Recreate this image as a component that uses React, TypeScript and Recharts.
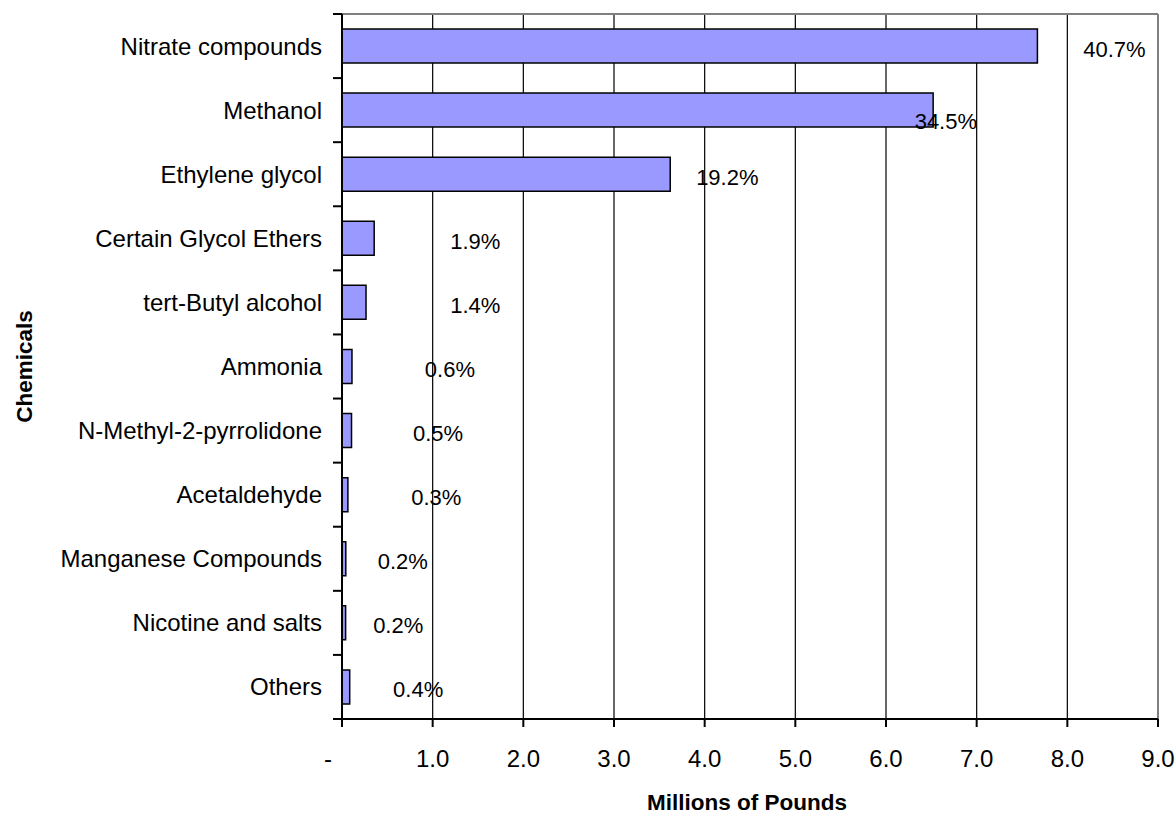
import React from 'react';
import { ComposedChart, Bar, Line, XAxis, YAxis, CartesianGrid, ReferenceLine, LabelList } from 'recharts';

const chemicals = [
  'Nitrate compounds',
  'Methanol',
  'Ethylene glycol',
  'Certain Glycol Ethers',
  'tert-Butyl alcohol',
  'Ammonia',
  'N-Methyl-2-pyrrolidone',
  'Acetaldehyde',
  'Manganese Compounds',
  'Nicotine and salts',
  'Others',
];
// millions of pounds
const pounds = [7.67, 6.52, 3.62, 0.355, 0.265, 0.11, 0.105, 0.065, 0.042, 0.04, 0.085];
const shares = ['40.7%', '34.5%', '19.2%', '1.9%', '1.4%', '0.6%', '0.5%', '0.3%', '0.2%', '0.2%', '0.4%'];
// where the share labels sit, in millions of pounds
const labelAt = [8.52, 6.66, 4.25, 1.47, 1.47, 1.19, 1.06, 1.04, 0.67, 0.62, 0.84];
const xTicks = [0, 1, 2, 3, 4, 5, 6, 7, 8, 9];

const data = chemicals.map((name, i) => ({
  name,
  pounds: pounds[i],
  share: shares[i],
  labelAt: labelAt[i],
}));

const FONT = 'Arial, "Liberation Sans", sans-serif';
const Y_TICK_GAP = 20;

const ShareLabel = (props: any) => {
  const { x, y, value, index } = props;
  // the Methanol label sits lower in the original
  const extra = index === 1 ? 11 : 3;
  return (
    <text x={x} y={y + extra} textAnchor="middle" dominantBaseline="central" fontSize={22} fill="#000" fontFamily={FONT}>
      {value}
    </text>
  );
};

// category label plus the tick marks on the band boundaries
const YTick = (props: any) => {
  const { x, y, payload, index, height, visibleTicksCount } = props;
  const band = height / chemicals.length;
  const axisX = x + Y_TICK_GAP;
  const last = index === visibleTicksCount - 1;
  return (
    <g>
      <text x={x} y={y} textAnchor="end" dominantBaseline="central" fontSize={24} fill="#000" fontFamily={FONT}>
        {payload.value}
      </text>
      <line x1={axisX - 9} x2={axisX} y1={y - band / 2} y2={y - band / 2} stroke="#000" strokeWidth={2} />
      {last && <line x1={axisX - 9} x2={axisX} y1={y + band / 2} y2={y + band / 2} stroke="#000" strokeWidth={2} />}
    </g>
  );
};

const XTick = (props: any) => {
  const { x, y, payload } = props;
  const v = payload.value as number;
  return (
    <text x={v === 0 ? x - 14 : x} y={y} dy="0.71em" textAnchor="middle" fontSize={24} fill="#000" fontFamily={FONT}>
      {v === 0 ? '-' : v.toFixed(1)}
    </text>
  );
};

const YTitle = (props: any) => {
  const { viewBox } = props;
  const cx = viewBox.x + 24;
  const cy = viewBox.y + viewBox.height / 2;
  return (
    <text x={cx} y={cy} transform={`rotate(-90, ${cx}, ${cy})`} textAnchor="middle" dominantBaseline="central" fontSize={22.5} fontWeight="bold" fill="#000" fontFamily={FONT}>
      Chemicals
    </text>
  );
};

const XTitle = (props: any) => {
  const { viewBox } = props;
  const cx = viewBox.x + viewBox.width / 2 - 3;
  const cy = viewBox.y + viewBox.height - 13;
  return (
    <text x={cx} y={cy} textAnchor="middle" dominantBaseline="central" fontSize={22.5} fontWeight="bold" fill="#000" fontFamily={FONT}>
      Millions of Pounds
    </text>
  );
};

export default function App() {
  return (
    <div style={{ position: 'absolute', left: 0, top: 0, width: 1176, height: 815, background: '#fff', fontFamily: FONT }}>
      <ComposedChart
        width={1176}
        height={815}
        data={data}
        layout="vertical"
        margin={{ top: 14, right: 18, bottom: 0, left: 0 }}
      >
        <CartesianGrid horizontal={false} stroke="#000" strokeWidth={1.2} />
        <CartesianGrid
          vertical={false}
          stroke="#808080"
          strokeWidth={2}
          horizontalCoordinatesGenerator={({ offset }: any) => [offset.top]}
        />
        <XAxis
          type="number"
          domain={[0, 9]}
          ticks={xTicks}
          interval={0}
          height={96}
          axisLine={{ stroke: '#000', strokeWidth: 2 }}
          tickLine={{ stroke: '#000', strokeWidth: 2 }}
          tickSize={8}
          tickMargin={23}
          tick={<XTick />}
          label={<XTitle />}
        />
        <YAxis
          type="category"
          dataKey="name"
          width={342}
          axisLine={{ stroke: '#000', strokeWidth: 2 }}
          tickLine={false}
          tickSize={0}
          tickMargin={Y_TICK_GAP}
          interval={0}
          tick={<YTick />}
          label={<YTitle />}
        />
        <ReferenceLine x={9} stroke="#808080" strokeWidth={2} />
        <Bar dataKey="pounds" fill="#9999FF" stroke="#000" strokeWidth={1.5} barSize={34} isAnimationActive={false} />
        <Line dataKey="labelAt" stroke="none" dot={false} activeDot={false} isAnimationActive={false}>
          <LabelList dataKey="share" content={<ShareLabel />} />
        </Line>
      </ComposedChart>
    </div>
  );
}
